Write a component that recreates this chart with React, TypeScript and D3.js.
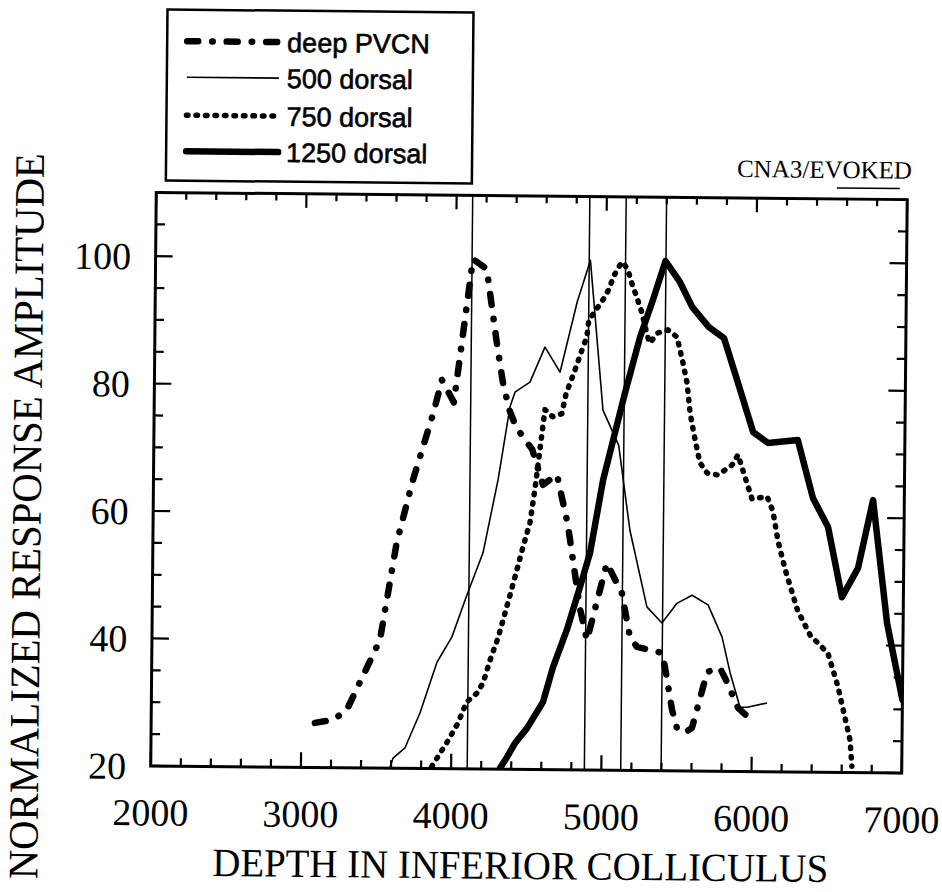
import React from 'react';
import * as d3 from 'd3';

type P = [number, number];

const xTickLabels = [2000, 3000, 4000, 5000, 6000, 7000];
const yTickLabels = [20, 40, 60, 80, 100];
const markerDepths = [4107, 4887, 5129, 5398];

const deepPVCN: P[] = [
  [3090, 27], [3210, 27.5], [3300, 29], [3518, 40.1], [3623, 55.4], [3728, 65.3], [3859, 75.8],
  [3914, 81], [3995, 77.5], [4113, 100], [4205, 98.5], [4277, 86.9], [4320, 80.7], [4365, 76.4],
  [4411, 73.7], [4520, 70.2], [4593, 64.7], [4686, 66.3], [4762, 58.4], [4847, 45.4], [4896, 40.4],
  [5024, 52.5], [5126, 47.8], [5182, 40.9], [5230, 39.4], [5396, 38.5], [5417, 36.3], [5467, 29.6],
  [5501, 26.7], [5555, 26], [5601, 26.8], [5672, 33.2], [5699, 35.6], [5784, 36.2], [5825, 34.3],
  [5906, 30], [6020, 27.6],
];

const dorsal500: P[] = [
  [3593, 20.2], [3613, 21.6], [3691, 23.2], [3789, 28.7], [3899, 36.7], [3997, 40.7], [4094, 47.3],
  [4198, 53.9], [4294, 65.4], [4369, 76.9], [4401, 79.2], [4500, 80.8], [4598, 86.3], [4700, 82.4],
  [4809, 93.4], [4895, 100], [4988, 76.5], [5095, 71], [5175, 57.7], [5293, 45.7], [5394, 43.2],
  [5493, 46.3], [5593, 47.6], [5700, 46.1], [5795, 41.1], [5851, 35.5], [5919, 30.1], [5966, 30.1],
  [6099, 30.8],
];

const dorsal750: P[] = [
  [3870, 20.3], [3925, 22.4], [3967, 24], [4043, 27.2], [4099, 30.5], [4166, 31.9], [4207, 33.5],
  [4252, 37.1], [4305, 40.7], [4360, 45.5], [4413, 50.2], [4464, 54.9], [4509, 58.7], [4540, 64],
  [4602, 76.5], [4654, 75.4], [4714, 75.9], [4742, 79.1], [4800, 82.8], [4844, 85.9], [4876, 88],
  [4888, 90.6], [4949, 92.7], [4994, 94.3], [5026, 95.8], [5047, 97.4], [5092, 99.3], [5111, 99.8],
  [5145, 98.5], [5180, 95.9], [5206, 94.3], [5242, 91.8], [5274, 88.7], [5294, 87.1], [5348, 88.7],
  [5415, 89.2], [5476, 88.1], [5518, 84], [5546, 80.9], [5568, 76.2], [5603, 72], [5637, 68.4],
  [5685, 66.8], [5758, 66.5], [5851, 68.1], [5890, 69.7], [5938, 66.2], [5986, 62.8], [6086, 63.2],
  [6126, 60.9], [6162, 56.2], [6212, 51.7], [6296, 45.4], [6382, 41.5], [6501, 38.7], [6571, 33.4],
  [6654, 25.1], [6668, 21],
];

const dorsal1250: P[] = [
  [4326, 20.2], [4371, 21.9], [4423, 24.1], [4503, 26.5], [4607, 30.6], [4672, 36.1], [4762, 42],
  [4846, 48.7], [4911, 54.1], [4993, 65.5], [5133, 79.2], [5230, 88], [5314, 93.9], [5395, 100],
  [5493, 96.7], [5576, 92.8], [5688, 89.7], [5789, 88], [5885, 81], [5989, 73.3], [6089, 71.6],
  [6287, 72.1], [6392, 63], [6494, 58.5], [6591, 47.5], [6696, 52.1], [6792, 62.8], [6893, 43.5],
  [7000, 31.5],
];

const seriesNames = ['deep PVCN', '500 dorsal', '750 dorsal', '1250 dorsal'];
const seriesData = [deepPVCN, dorsal500, dorsal750, dorsal1250];

const seriesStyles = [
  { w: 6.5, dash: '11 14 0.5 14', cap: 'round' as const },
  { w: 1.6, dash: undefined, cap: 'butt' as const },
  { w: 5.5, dash: '1.5 8', cap: 'round' as const },
  { w: 6.5, dash: undefined, cap: 'round' as const },
];

const SERIF = '"Liberation Serif", "Times New Roman", serif';
const SANS = '"Liberation Sans", Arial, sans-serif';

export default function App() {
  const left = 153.5, right = 904.5, top = 196, bottom = 769.5;
  const x = d3.scaleLinear().domain([2000, 7000]).range([left, right]);
  const y = d3.scaleLinear().domain([20, 110]).range([bottom, top]);
  const line = d3.line<P>().x(d => x(d[0])).y(d => y(d[1]));

  const xMinor = d3.range(2000, 7001, 200);
  const yMinor = d3.range(20, 111, 5);
  const isXMajor = (v: number) => v % 1000 === 0;
  const isYMajor = (v: number) => v % 20 === 0;

  const legendX = 163, legendY = 13, legendW = 306, legendH = 171;
  const rowY = [44.5, 80.5, 118.5, 154.5];

  return (
    <svg width={942} height={892} style={{ position: 'absolute', left: 0, top: 0, background: '#fff' }}>
      <rect x={0} y={0} width={942} height={892} fill="#fff" />
      <defs>
        <clipPath id="plotclip">
          <rect x={left} y={top} width={right - left} height={bottom - top} />
        </clipPath>
      </defs>
      <g transform="rotate(0.55 527 480)">
        {/* legend */}
        <rect x={legendX} y={legendY} width={legendW} height={legendH} fill="none" stroke="#000" strokeWidth={2.5} />
        {seriesNames.map((name, i) => (
          <g key={name}>
            <line x1={183} x2={275} y1={rowY[i]} y2={rowY[i]} stroke="#000"
              strokeWidth={seriesStyles[i].w} strokeDasharray={seriesStyles[i].dash}
              strokeLinecap={seriesStyles[i].cap} />
            <text x={283} y={rowY[i]} dy="0.36em" fontFamily={SANS} fontSize={27}
              stroke="#000" strokeWidth={0.6} fill="#000">{name}</text>
          </g>
        ))}

        {/* header note */}
        <text x={909} y={175} textAnchor="end" fontFamily={SERIF} fontSize={25} fill="#000">CNA3/EVOKED</text>
        <line x1={834} x2={897} y1={185} y2={185} stroke="#000" strokeWidth={1.5} />

        {/* marker lines */}
        {markerDepths.map(d => (
          <line key={d} x1={x(d)} x2={x(d)} y1={top} y2={bottom} stroke="#000" strokeWidth={1.5} />
        ))}

        {/* series */}
        <g clipPath="url(#plotclip)">
          {seriesData.map((data, i) => (
            <path key={i} d={line(data) || ''} fill="none" stroke="#000"
              strokeWidth={seriesStyles[i].w} strokeDasharray={seriesStyles[i].dash}
              strokeLinecap={seriesStyles[i].cap} strokeLinejoin="round" />
          ))}
        </g>

        {/* frame */}
        <rect x={left} y={top} width={right - left} height={bottom - top} fill="none" stroke="#000" strokeWidth={3} />

        {/* x ticks bottom & top */}
        {xMinor.map(v => (
          <g key={'x' + v}>
            <line x1={x(v)} x2={x(v)} y1={bottom} y2={bottom - (isXMajor(v) ? 15 : 8)} stroke="#000" strokeWidth={2.2} />
            <line x1={x(v)} x2={x(v)} y1={top} y2={top + (isXMajor(v) ? 14 : 7)} stroke="#000" strokeWidth={2.2} />
          </g>
        ))}
        {/* y ticks left & right */}
        {yMinor.map(v => (
          <g key={'y' + v}>
            <line x1={left} x2={left + (isYMajor(v) ? 17 : 9)} y1={y(v)} y2={y(v)} stroke="#000" strokeWidth={2.2} />
            <line x1={right} x2={right - (isYMajor(v) ? 17 : 9)} y1={y(v)} y2={y(v)} stroke="#000" strokeWidth={2.2} />
          </g>
        ))}

        {/* tick labels */}
        {xTickLabels.map(v => (
          <text key={'xl' + v} x={x(v)} y={829} textAnchor="middle" fontFamily={SERIF} fontSize={38} fill="#000">{v}</text>
        ))}
        {yTickLabels.map(v => (
          <text key={'yl' + v} x={129} y={y(v)} dy="0.35em" textAnchor="end" fontFamily={SERIF} fontSize={38} fill="#000">{v}</text>
        ))}

        {/* axis titles */}
        <text x={524} y={879} textAnchor="middle" fontFamily={SERIF} fontSize={40}
          textLength={616} lengthAdjust="spacingAndGlyphs" fill="#000">DEPTH IN INFERIOR COLLICULUS</text>
        <text transform="translate(41,521) rotate(-90)" textAnchor="middle" fontFamily={SERIF} fontSize={42}
          textLength={726} lengthAdjust="spacingAndGlyphs" fill="#000">NORMALIZED RESPONSE AMPLITUDE</text>
      </g>
    </svg>
  );
}
